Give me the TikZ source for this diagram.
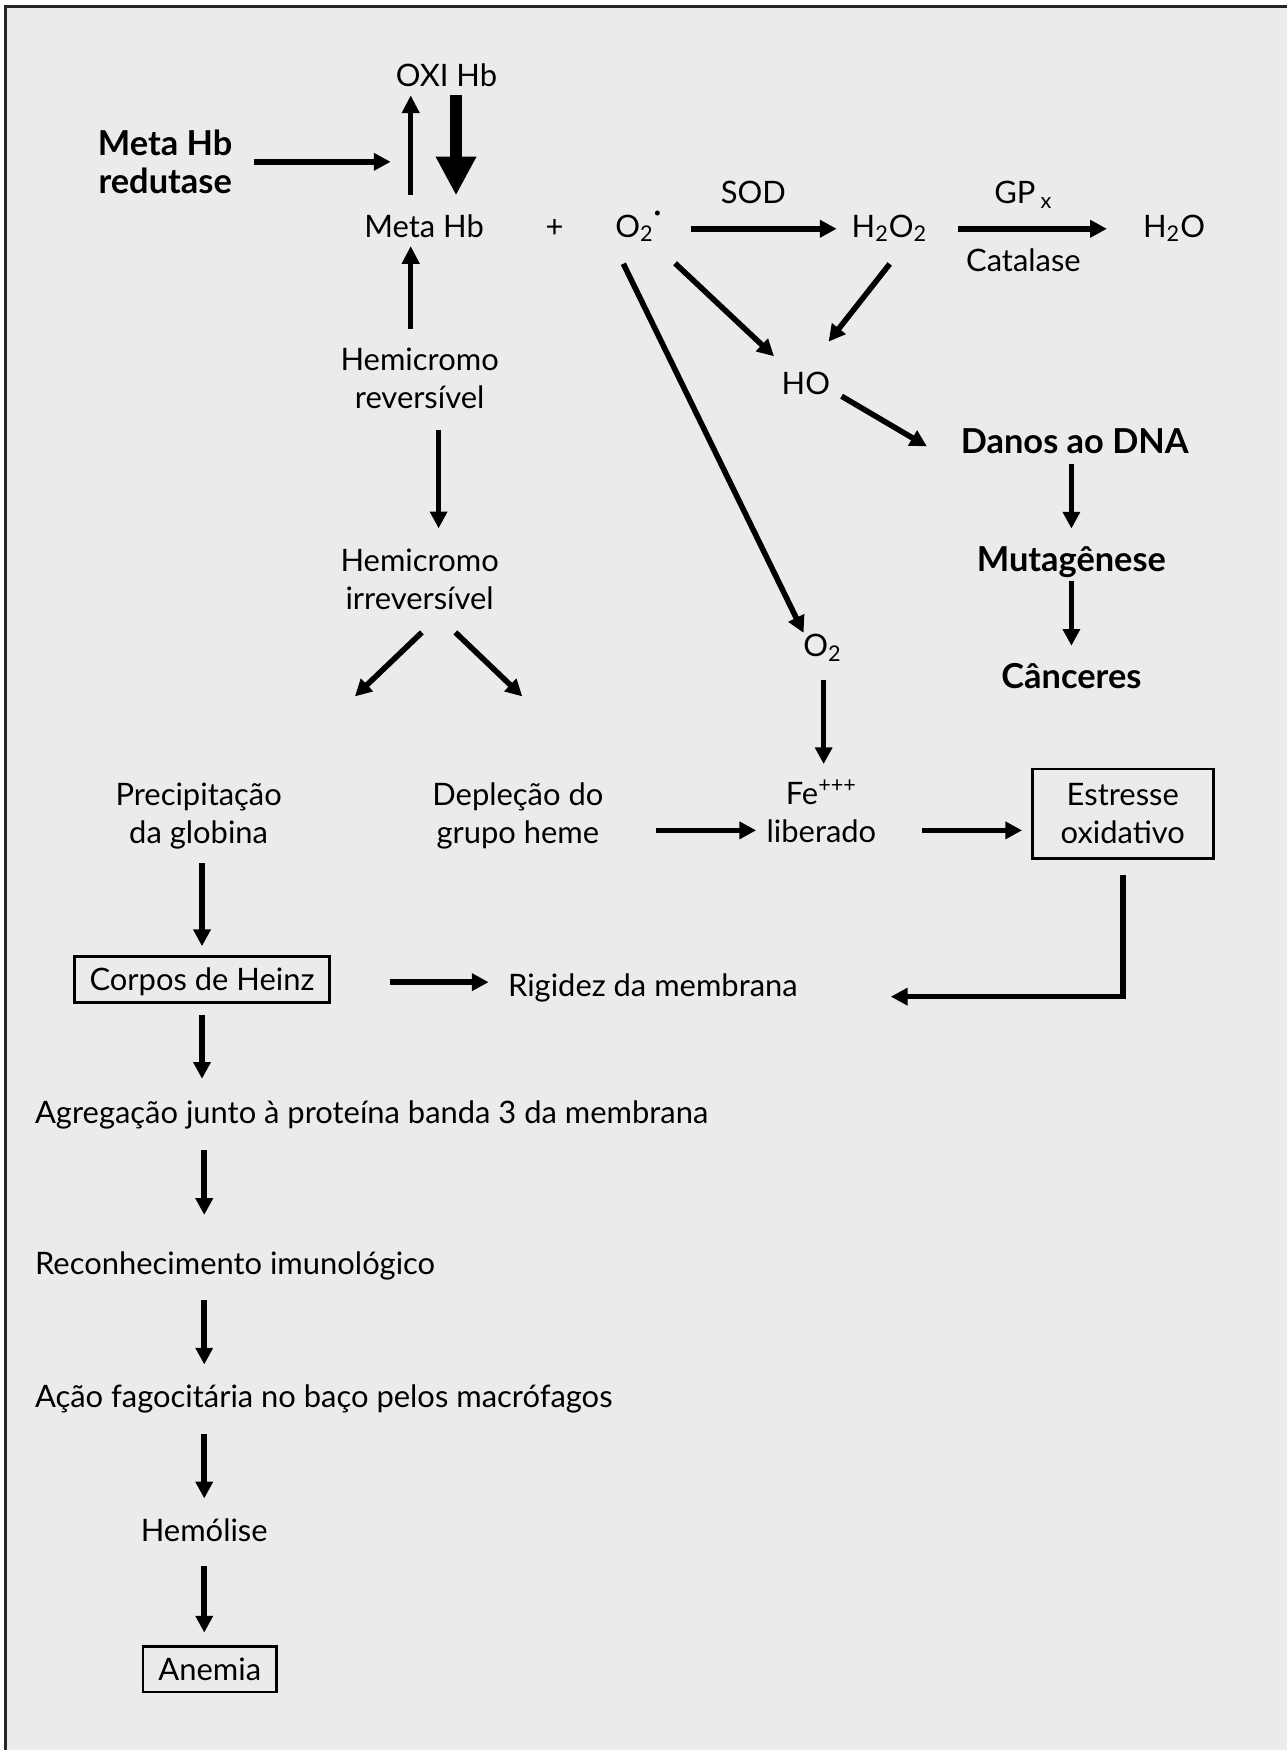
\documentclass[tikz,border=0pt]{standalone}
\usepackage{fontspec}
\setmainfont{Lato}
\usetikzlibrary{arrows.meta,calc}
\definecolor{bgc}{HTML}{EBEBEB}
\begin{document}
\begin{tikzpicture}[x=0.5pt,y=-0.5pt,
  every node/.style={font=\fontsize{13.85}{17}\selectfont, inner sep=0pt},
  lbl/.style={text height=10.5pt, text depth=3pt},
  ml/.style={align=center},
  bld/.style={font=\fontsize{15.4}{17}\selectfont\bfseries},
  bx/.style={draw, line width=1.2pt, text height=10pt, text depth=0pt},
  arr/.style={line width=2.5pt, -{Triangle[length=7.5pt,width=7.5pt]}},
  tarr/.style={line width=2.1pt, -{Triangle[length=8pt,width=7.6pt]}},
  karr/.style={line width=5.7pt, -{Triangle[length=17.4pt,width=17pt]}}
]
\useasboundingbox (0,0) rectangle (1153,1568);
\fill[white] (0,0) rectangle (1153,1568);
\fill[bgc] (5,6) rectangle (1153,1568);
\draw[line width=1.4pt, black!85] (5,1568) -- (5,6) -- (1153,6);

% nodes
\node[lbl] (oxi) at (400,70) {OXI Hb};
\node[ml,bld] (red) at (148,145) {Meta Hb\\redutase};
\node[lbl] (meta) at (380,205) {Meta Hb};
\node[lbl] (plus) at (497,205) {+};
\node[lbl] (sup) at (572,205) {O\textsubscript{2}\raisebox{0.62em}{\fontsize{6}{6}\selectfont •}};
\node[lbl] (sod) at (675,175) {SOD};
\node[lbl] (h2o2) at (797,205) {H\textsubscript{2}O\textsubscript{2}};
\node[lbl] (gpx) at (917,175) {GP\,\textsubscript{x}};
\node[lbl] (cat) at (917,236) {Catalase};
\node[lbl] (h2o) at (1052,205) {H\textsubscript{2}O};
\node[ml] (hrev) at (376,339) {Hemicromo\\reversível};
\node[lbl] (ho) at (722,346) {HO};
\node[lbl,bld] (dna) at (963,399) {Danos ao DNA};
\node[ml] (hirr) at (376,519) {Hemicromo\\irreversível};
\node[lbl,bld] (mut) at (960,505) {Mutagênese};
\node[lbl] (o2) at (737,581) {O\textsubscript{2}};
\node[lbl,bld] (canc) at (960,609) {Cânceres};
\node[ml] (prec) at (178,731) {Precipitação\\da globina};
\node[ml] (depl) at (464,731) {Depleção do\\grupo heme};
\node[ml] (fe) at (736,727) {Fe\textsuperscript{+++}\\liberado};
\node[bx, ml, text height=, minimum width=81pt, minimum height=40pt] (est) at (1006,729) {Estresse\\oxidativo};
\node[bx, minimum width=114pt, minimum height=20.5pt] (corpos) at (181,877.5) {Corpos de Heinz};
\node[lbl] (rig) at (585,885) {Rigidez da membrana};
\node[lbl, anchor=west] (agr) at (31,999) {Agregação junto à proteína banda 3 da membrana};
\node[lbl, anchor=west] (rec) at (31,1134) {Reconhecimento imunológico};
\node[lbl, anchor=west] (acao) at (31,1254) {Ação fagocitária no baço pelos macrófagos};
\node[lbl] (hemo) at (183,1374) {Hemólise};
\node[bx, minimum width=60pt, minimum height=20.5pt] (anem) at (188,1495.5) {Anemia};

\coordinate (jred) at (350,145);
\coordinate (pl) at (318,624);
\coordinate (pr) at (468,624);

% connectors
\draw[arr] ([xshift=9.5pt]red.east) -- (jred);
\draw[tarr, shorten <=8.4pt, shorten >=0.75pt] ([xshift=-6pt]meta.north) -- ([xshift=-6pt]meta.north |- oxi.south);
\draw[karr, shorten <=0.75pt, shorten >=8pt] ([xshift=14.3pt]meta.north |- oxi.south) -- ([xshift=14.3pt]meta.north);
\draw[tarr, shorten <=8.5pt, shorten >=0.75pt] ([xshift=-6pt]meta.south |- hrev.north) -- ([xshift=-6pt]meta.south);
\draw[arr, shorten <=13pt, shorten >=6.5pt] (sup.east) -- (h2o2.west);
\draw[arr, shorten <=13.5pt, shorten >=16pt] (h2o2.east) -- (h2o.west);
\draw[arr, shorten <=12.4pt, shorten >=9.4pt] (sup) -- (ho);
\draw[arr, shorten <=11.2pt, shorten >=16.5pt] ([xshift=7pt]h2o2.south) -- (ho.north);
\draw[arr, shorten <=9.7pt] ([xshift=-11pt]sup.south) -- ([xshift=-8.5pt]o2.north);
\draw[arr] ([shift={(5pt,-4.5pt)}]ho.east) -- ([shift={(-15pt,-0.5pt)}]dna.west);
\draw[arr, shorten <=1.25pt, shorten >=8.75pt] (mut |- dna.south) -- (mut.north);
\draw[arr, shorten <=0.75pt, shorten >=8.25pt] (mut.south) -- (mut.south |- canc.north);
\draw[arr, shorten <=9.5pt, shorten >=9pt] ([xshift=8.5pt]hrev.south) -- ([xshift=8.5pt]hirr.north);
\draw[arr] ([shift={(1pt,-10pt)}]hirr.south) -- (pl);
\draw[arr] ([shift={(16pt,-10pt)}]hirr.south) -- (pr);
\draw[arr, shorten <=7.25pt, shorten >=7pt] ([xshift=0.5pt]o2.south) -- ([xshift=0.5pt]o2.south |- fe.north);
\draw[arr, shorten <=23.5pt, shorten >=4.5pt] ([yshift=-6.5pt]depl.east) -- ([yshift=-6.5pt]depl.east -| fe.west);
\draw[arr, shorten <=20.5pt, shorten >=4pt] ([yshift=-7.5pt]est.west -| fe.east) -- ([yshift=-7.5pt]est.west);
\draw[arr] ([yshift=-7pt]est.south) |- ([shift={(41.5pt,-4pt)}]rig.east);
\draw[arr, shorten <=6pt, shorten >=4pt] (corpos.north |- prec.south) -- (corpos.north);
\draw[arr, shorten <=26.5pt, shorten >=8.5pt] ([yshift=-1.25pt]corpos.east) -- ([yshift=-1.25pt]corpos.east -| rig.west);
\draw[arr, shorten <=5pt, shorten >=9.25pt] (corpos.south) -- (corpos.south |- agr.north);
\draw[arr, shorten <=8.75pt, shorten >=15.75pt] (hemo |- agr.south) -- (hemo |- rec.north);
\draw[arr, shorten <=8.25pt, shorten >=8.75pt] (hemo |- rec.south) -- (hemo |- acao.north);
\draw[arr, shorten <=8.25pt, shorten >=8.75pt] (hemo |- acao.south) -- (hemo.north);
\draw[arr, shorten <=7.75pt, shorten >=5.5pt] (hemo.south) -- (hemo.south |- anem.north);
\end{tikzpicture}
\end{document}
